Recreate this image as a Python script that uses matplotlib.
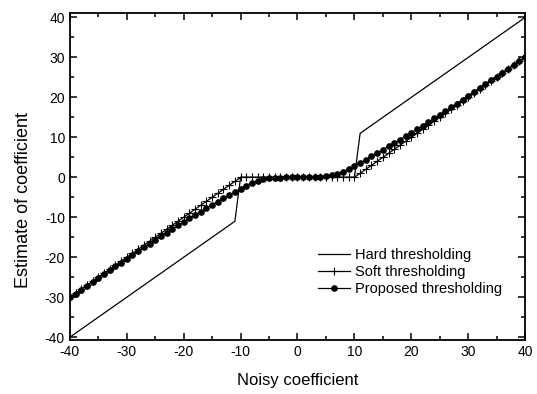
import matplotlib
matplotlib.use("Agg")
import matplotlib.pyplot as plt
from matplotlib.ticker import MultipleLocator

plt.rcParams['font.family'] = ['Liberation Sans', 'DejaVu Sans']
plt.rcParams['axes.unicode_minus'] = False

# noisy coefficient (sampled every 1)
x = list(range(-40, 41))

# hard thresholding: only the break points are needed (no markers)
hard_x = [-40, -11, -10, 10, 11, 40]
hard_y = [-40, -11, 0, 0, 11, 40]

# soft thresholding
soft_y = [-30, -29, -28, -27, -26, -25, -24, -23, -22, -21,
          -20, -19, -18, -17, -16, -15, -14, -13, -12, -11,
          -10, -9, -8, -7, -6, -5, -4, -3, -2, -1,
          0, 0, 0, 0, 0, 0, 0, 0, 0, 0,
          0,
          0, 0, 0, 0, 0, 0, 0, 0, 0, 0,
          1, 2, 3, 4, 5, 6, 7, 8, 9, 10,
          11, 12, 13, 14, 15, 16, 17, 18, 19, 20,
          21, 22, 23, 24, 25, 26, 27, 28, 29, 30]

# proposed thresholding
prop_y = [-30.05, -29.08, -28.1, -27.13, -26.16, -25.19, -24.22, -23.25, -22.28, -21.32,
          -20.36, -19.41, -18.46, -17.52, -16.58, -15.65, -14.73, -13.82, -12.92, -12.03,
          -11.15, -10.28, -9.42, -8.57, -7.73, -6.9, -6.07, -5.25, -4.42, -3.6,
          -2.8, -2.05, -1.4, -0.9, -0.52, -0.27, -0.12, -0.05, -0.02, 0.0,
          0.0,
          0.0, 0.02, 0.05, 0.12, 0.27, 0.52, 0.9, 1.4, 2.05, 2.8,
          3.6, 4.42, 5.25, 6.07, 6.9, 7.73, 8.57, 9.42, 10.28, 11.15,
          12.03, 12.92, 13.82, 14.73, 15.65, 16.58, 17.52, 18.46, 19.41, 20.36,
          21.32, 22.28, 23.25, 24.22, 25.19, 26.16, 27.13, 28.1, 29.08, 30.05]

fig = plt.figure(figsize=(5.37, 3.94), dpi=100)
ax = fig.add_axes([0.130, 0.137, 0.848, 0.829])

ax.plot(hard_x, hard_y, color='black', lw=0.9, label='Hard thresholding')
ax.plot(x, soft_y, color='black', lw=0.9, marker='+', ms=5.5, mew=0.8,
        label='Soft thresholding')
ax.plot(x, prop_y, color='black', lw=0.9, marker='o', ms=3.8,
        label='Proposed thresholding')

ax.set_xlim(-40, 40)
ax.set_ylim(-40.7, 41)
ax.xaxis.set_major_locator(MultipleLocator(10))
ax.xaxis.set_minor_locator(MultipleLocator(5))
ax.yaxis.set_major_locator(MultipleLocator(10))
ax.yaxis.set_minor_locator(MultipleLocator(5))
ax.tick_params(which='both', direction='in', top=True, right=True,
               labelsize=10, width=1.1)
ax.tick_params(which='major', length=5)
ax.tick_params(which='minor', length=3)
for s in ax.spines.values():
    s.set_linewidth(1.3)

ax.set_xlabel('Noisy coefficient', fontsize=12, labelpad=10)
ax.set_ylabel('Estimate of coefficient', fontsize=13)
ax.yaxis.set_label_coords(-0.084, 0.43)

ax.legend(loc='upper left', bbox_to_anchor=(0.568, 0.404),
          bbox_transform=fig.transFigure, frameon=False,
          fontsize=10.5, numpoints=1, handlelength=2.2, handletextpad=0.35,
          labelspacing=0.2)

fig.savefig('out.png', dpi=100)
